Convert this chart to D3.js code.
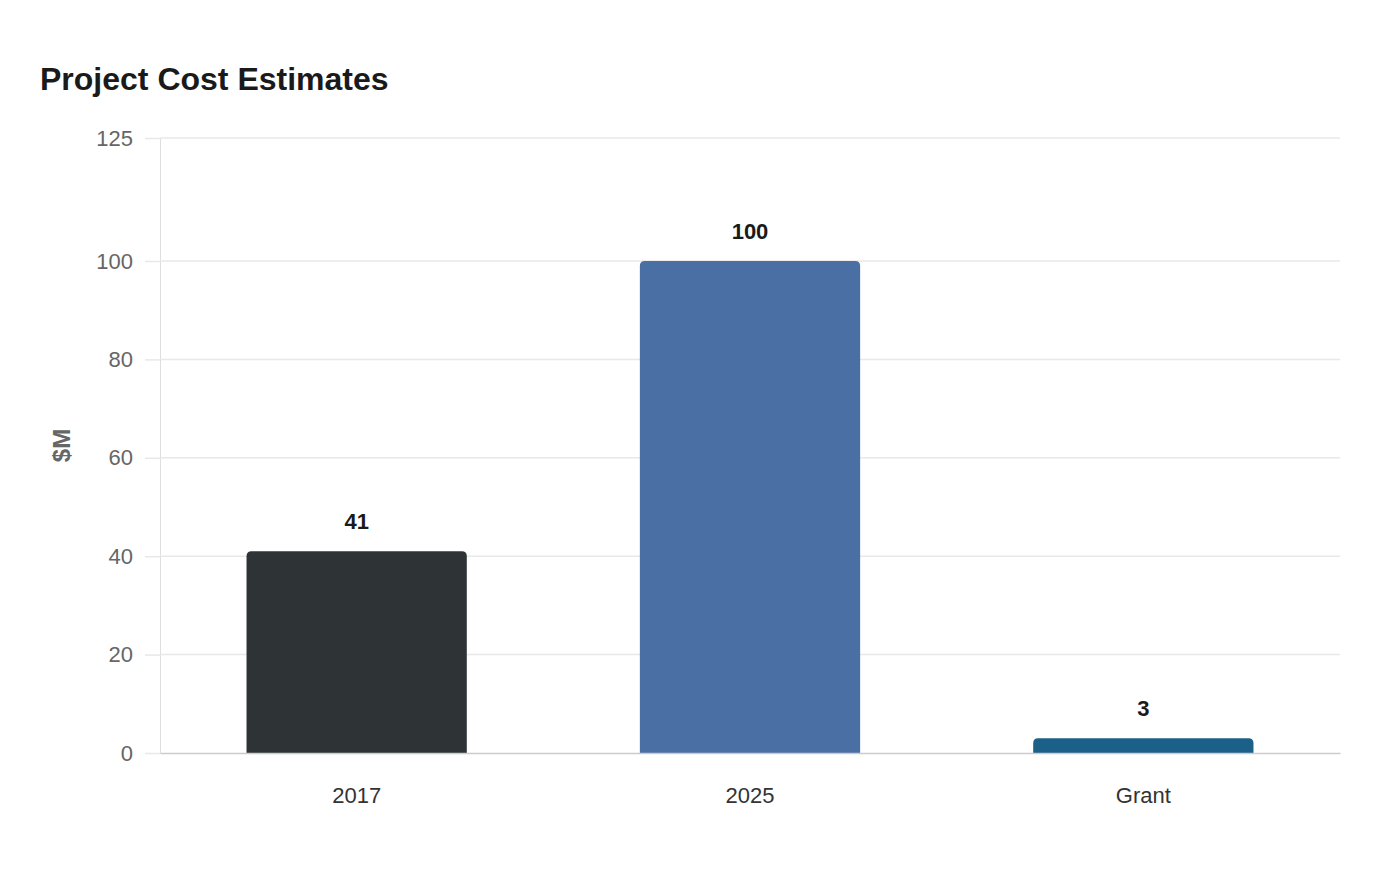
<!DOCTYPE html>
<html>
<head>
<meta charset="utf-8">
<script src="https://cdn.jsdelivr.net/npm/d3@7"></script>
<style>
  body { margin: 0; background: #fff; }
  svg { font-family: "Liberation Sans", Arial, sans-serif; }
</style>
</head>
<body>
<div class="chart"></div>
<script>
const categories = ["2017", "2025", "Grant"];
const costs = [41, 100, 3];
const barColors = ["#2e3436", "#4a6fa5", "#1a6088"];
const yTicks = [0, 20, 40, 60, 80, 100, 125];

const W = 1400, H = 880;
const margin = { top: 138, right: 60, bottom: 127, left: 160 };
const width = W - margin.left - margin.right;
const height = H - margin.top - margin.bottom;

const svg = d3.select(".chart").append("svg")
  .attr("width", W)
  .attr("height", H);

svg.append("text")
  .attr("x", 40)
  .attr("y", 90)
  .attr("font-size", 32)
  .attr("font-weight", "bold")
  .attr("fill", "#1a1a1a")
  .text("Project Cost Estimates");

const g = svg.append("g")
  .attr("transform", "translate(" + margin.left + "," + margin.top + ")");

const x = d3.scaleBand().domain(categories).range([0, width]).paddingInner(0.44).paddingOuter(0.22);
const y = d3.scaleLinear().domain([0, 125]).range([height, 0]);

// grid + y axis
const yAxis = g.append("g")
  .call(d3.axisLeft(y).tickValues(yTicks).tickSize(15).tickPadding(12));
yAxis.select(".domain").attr("stroke", "#dedede");
yAxis.selectAll(".tick line").attr("stroke", "#e8e8e8").attr("stroke-width", 1.5);
yAxis.selectAll(".tick text").attr("font-size", 22).attr("fill", "#666").attr("font-family", null);

g.append("g")
  .selectAll("line")
  .data(yTicks.filter(d => d > 0))
  .join("line")
  .attr("x1", 0).attr("x2", width)
  .attr("y1", d => y(d)).attr("y2", d => y(d))
  .attr("stroke", "#e8e8e8")
  .attr("stroke-width", 1.5);

// bars with rounded tops
const r = 5;
g.append("g")
  .selectAll("path")
  .data(costs)
  .join("path")
  .attr("fill", (d, i) => barColors[i])
  .attr("d", (d, i) => {
    const x0 = x(categories[i]), x1 = x0 + x.bandwidth();
    const top = y(d), bot = y(0);
    const rr = Math.min(r, bot - top);
    return "M" + x0 + "," + bot + "V" + (top + rr) + "Q" + x0 + "," + top + " " + (x0 + rr) + "," + top +
      "H" + (x1 - rr) + "Q" + x1 + "," + top + " " + x1 + "," + (top + rr) + "V" + bot + "Z";
  });

// value labels
g.append("g")
  .selectAll("text")
  .data(costs)
  .join("text")
  .attr("x", (d, i) => x(categories[i]) + x.bandwidth() / 2)
  .attr("y", d => y(d) - 22)
  .attr("text-anchor", "middle")
  .attr("font-size", 22)
  .attr("font-weight", "bold")
  .attr("fill", "#1a1a1a")
  .text(d => d);

// x axis
const xAxis = g.append("g")
  .attr("transform", "translate(0," + height + ")")
  .call(d3.axisBottom(x).tickSize(0).tickPadding(34));
xAxis.select(".domain").attr("stroke", "#cccccc").attr("stroke-width", 1.5);
xAxis.selectAll(".tick text").attr("font-size", 22).attr("fill", "#333").attr("font-family", null);

// y title
svg.append("text")
  .attr("transform", "translate(70," + (margin.top + height / 2) + ") rotate(-90)")
  .attr("text-anchor", "middle")
  .attr("font-size", 24)
  .attr("font-weight", "bold")
  .attr("fill", "#666")
  .text("$M");
</script>
</body>
</html>
